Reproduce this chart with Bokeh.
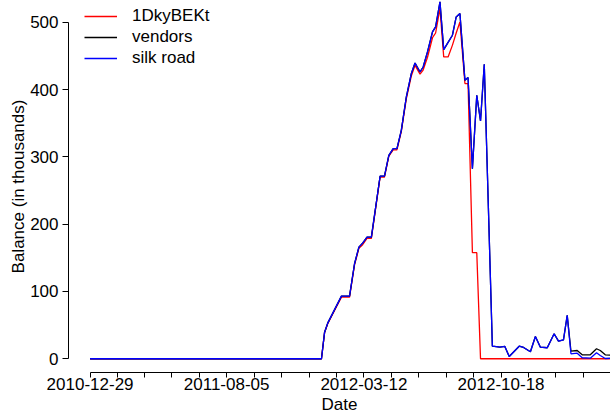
import pandas as pd
from bokeh.plotting import figure
from bokeh.models import FixedTicker, Range1d, Legend, LegendItem, Title
from bokeh.embed import file_html
from bokeh.resources import INLINE

# ---- data (balance in thousands) ----
start_date = "2010-12-29"
dates = [
    "2010-12-29", "2012-01-04", "2012-01-09", "2012-01-14", "2012-02-05", "2012-02-18",
    "2012-02-26", "2012-03-04", "2012-03-10", "2012-03-17", "2012-03-24", "2012-04-07",
    "2012-04-14", "2012-04-21", "2012-04-28", "2012-05-04", "2012-05-11", "2012-05-19",
    "2012-05-27", "2012-06-02", "2012-06-10", "2012-06-15", "2012-06-22", "2012-06-30",
    "2012-07-05", "2012-07-12", "2012-07-18", "2012-07-25", "2012-08-01", "2012-08-07",
    "2012-08-13", "2012-08-21", "2012-08-26", "2012-09-02", "2012-09-09", "2012-09-15",
    "2012-09-21", "2012-10-04", "2012-10-16", "2012-10-24", "2012-10-31", "2012-11-16",
    "2012-11-23", "2012-12-04", "2012-12-12", "2012-12-20", "2012-12-31", "2013-01-11",
    "2013-01-18", "2013-01-26", "2013-02-01", "2013-02-07", "2013-02-17", "2013-02-25",
    "2013-03-10", "2013-03-20", "2013-03-26", "2013-04-03", "2013-04-15",
]
silk_road = [
    0, 0, 39.5, 52.9, 93.1, 93.1,
    141.2, 165.9, 171.9, 180.8, 180.8, 271.5,
    271.5, 302.3, 312.2, 312.2, 339.4, 388.9,
    423.7, 439.5, 426.1, 433.5, 456.0, 485.6,
    493.0, 530.2, 459.4, 470.0, 480.7, 507.9,
    512.9, 413.8, 417.8, 282.5, 391.5, 353.3,
    437.6, 18.7, 17.2, 18.3, 3.4, 18.7,
    16.8, 10.4, 33.2, 17.2, 16.4, 37.2,
    26.2, 28.2, 64.4, 7.4, 8.3, 1.5,
    0.9, 8.9, 4.9, 0.4, 1.0,
]
vendors = [
    0, 0, 39.5, 52.9, 93.1, 93.1,
    141.2, 165.9, 171.9, 180.8, 180.8, 271.5,
    271.5, 302.3, 312.2, 312.2, 339.4, 388.9,
    423.7, 439.5, 426.1, 433.5, 456.0, 485.6,
    493.0, 530.2, 459.4, 470.0, 480.7, 507.9,
    512.9, 413.8, 417.8, 282.5, 391.5, 353.3,
    437.6, 18.7, 17.2, 18.3, 3.4, 18.7,
    16.8, 10.4, 33.2, 17.2, 16.4, 37.2,
    26.2, 28.2, 64.4, 11.3, 12.3, 5.9,
    5.9, 14.9, 12.3, 5.9, 5.0,
]
addr_1dky = [
    0, 0, 39.0, 52.0, 91.5, 91.5,
    139.5, 164.0, 169.5, 179.0, 179.0, 270.0,
    270.0, 301.0, 310.5, 310.5, 337.5, 386.0,
    420.0, 436.0, 423.0, 429.0, 448.0, 477.0,
    484.0, 520.4, 448.4, 448.4, 466.0, 484.0,
    500.4, 408.9, 408.9, 157.6, 157.6, 0,
    0, 0, 0, 0, 0, 0,
    0, 0, 0, 0, 0, 0,
    0, 0, 0, 0, 0, 0,
    0, 0, 0, 0, 0,
]
series_names = ["1DkyBEKt", "vendors", "silk road"]
series_colors = ["#ff0000", "#000000", "#0000ff"]
y_ticks = [0, 100, 200, 300, 400, 500]
tick_label_dates = ["2010-12-29", "2011-08-05", "2012-03-12", "2012-10-18"]
x_title = "Date"
y_title = "Balance (in thousands)"

# ---- derived ----
t0 = pd.Timestamp(start_date)
days = [(pd.Timestamp(d) - t0).days for d in dates]
label_days = [(pd.Timestamp(d) - t0).days for d in tick_label_dates]

ticks = []
for a, b in zip(label_days[:-1], label_days[1:]):
    for k in range(5):
        ticks.append(int(round(a + k * (b - a) / 5)))
step = (label_days[-1] - label_days[0]) / (5 * (len(label_days) - 1))
for k in range(0, 5):
    ticks.append(int(round(label_days[-1] + k * step)))
ticks = sorted(set(ticks))
overrides = {t: "" for t in ticks}
for d, lab in zip(label_days, tick_label_dates):
    overrides[d] = lab

FONT = "Liberation Sans"
FS = "17px"

x_start, x_end = -34.6, 834.4
y_start, y_end = -20.4, 532.3

p = figure(width=610, height=416, output_backend="svg", toolbar_location=None,
           x_range=Range1d(x_start, x_end), y_range=Range1d(y_start, y_end),
           min_border=0, min_border_left=68, min_border_right=0,
           min_border_top=0, min_border_bottom=44)
p.outline_line_color = None
p.xgrid.visible = False
p.ygrid.visible = False
p.background_fill_color = "white"
p.border_fill_color = "white"

renderers = []
for vals, col in zip([addr_1dky, vendors, silk_road], series_colors):
    r = p.line(days, vals, line_color=col, line_width=1.3)
    renderers.append(r)

legend = Legend(items=[LegendItem(label=n, renderers=[r]) for n, r in zip(series_names, renderers)],
                location=(16, 304), orientation="vertical")
legend.padding = 0
legend.margin = 0
legend.spacing = 1
legend.glyph_width = 33
legend.glyph_height = 20
legend.label_height = 20
legend.label_standoff = 15
legend.border_line_color = None
legend.background_fill_alpha = 0
legend.label_text_font = FONT
legend.label_text_font_size = FS
legend.label_text_color = "black"
p.add_layout(legend)

xa = p.xaxis[0]
xa.ticker = FixedTicker(ticks=ticks)
xa.major_label_overrides = overrides
xa.bounds = (0, x_end)
xa.minor_tick_line_color = None
xa.major_tick_out = 5
xa.major_tick_in = 0
xa.major_label_standoff = 0
xa.major_label_text_font = FONT
xa.major_label_text_font_size = FS
xa.major_label_text_color = "black"
xa.axis_line_color = "black"
xa.major_tick_line_color = "black"

ya = p.yaxis[0]
ya.ticker = FixedTicker(ticks=y_ticks)
ya.bounds = (y_ticks[0], y_ticks[-1])
ya.minor_tick_line_color = None
ya.major_tick_out = 6
ya.major_tick_in = 0
ya.major_label_standoff = 4
ya.major_label_text_font = FONT
ya.major_label_text_font_size = FS
ya.major_label_text_color = "black"
ya.axis_line_color = "black"
ya.major_tick_line_color = "black"

p.add_layout(Title(text=x_title, align="center", offset=11, standoff=0,
                   text_font=FONT, text_font_size=FS, text_font_style="normal",
                   text_color="black"), "below")
p.add_layout(Title(text=y_title, align="center", offset=3, standoff=0,
                   text_font=FONT, text_font_size=FS, text_font_style="normal",
                   text_color="black"), "left")

open("out.html", "w").write(file_html(p, INLINE))
